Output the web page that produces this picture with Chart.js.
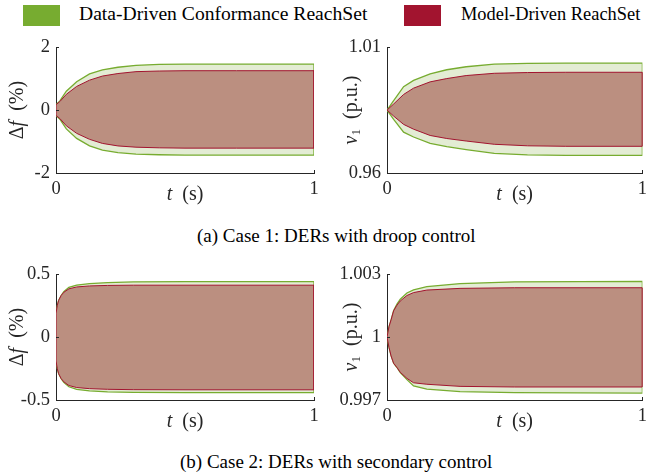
<!DOCTYPE html>
<html>
<head>
<meta charset="utf-8">
<script src="https://cdn.jsdelivr.net/npm/chart.js@4.4.0/dist/chart.umd.min.js"></script>
<style>
  body { margin: 0; width: 652px; height: 476px; position: relative; overflow: hidden; background: #fff; font-family: "Liberation Serif", serif; color: #000; }
  .abs { position: absolute; white-space: nowrap; }
  .patch { position: absolute; top: 5px; width: 37px; height: 21px; }
  .legtext { top: 4px; line-height: 20px; }
  .caption { font-size: 19px; line-height: 19px; }
  canvas { position: absolute; }
</style>
</head>
<body>

<div class="patch" style="left:23px;background:#77ac30"></div>
<div class="abs legtext" style="left:79px;font-size:19.6px">Data-Driven Conformance ReachSet</div>
<div class="patch" style="left:404px;background:#a2142f"></div>
<div class="abs legtext" style="left:461px;font-size:18.4px">Model-Driven ReachSet</div>

<canvas id="c1" width="326" height="180" style="left:0;top:30px"></canvas>
<canvas id="c2" width="326" height="180" style="left:326px;top:30px"></canvas>
<canvas id="c3" width="326" height="180" style="left:0;top:257px"></canvas>
<canvas id="c4" width="326" height="180" style="left:326px;top:257px"></canvas>

<div class="abs caption" style="left:197px;top:226px">(a) Case 1: DERs with droop control</div>
<div class="abs caption" style="left:180px;top:452px">(b) Case 2: DERs with secondary control</div>

<script>
// ---- Case 1 (droop control): frequency deviation, %
const t1 = [0, 0.015, 0.04, 0.08, 0.13, 0.18, 0.24, 0.31, 0.4, 0.5, 0.7, 1];
const df1ConfUp  = [0.17, 0.29, 0.6, 0.9, 1.15, 1.28, 1.36, 1.42, 1.45, 1.46, 1.46, 1.46];
const df1ConfLo  = [-0.17, -0.29, -0.6, -0.9, -1.14, -1.27, -1.35, -1.40, -1.42, -1.43, -1.43, -1.43];
const df1ModelUp = [0.17, 0.27, 0.5, 0.75, 0.95, 1.08, 1.16, 1.22, 1.24, 1.25, 1.25, 1.25];
const df1ModelLo = [-0.17, -0.27, -0.5, -0.74, -0.93, -1.06, -1.14, -1.18, -1.2, -1.21, -1.21, -1.21];

// ---- Case 1: bus 1 voltage, p.u.
const t2 = [0, 0.026, 0.065, 0.104, 0.169, 0.234, 0.31, 0.42, 0.55, 0.7, 1];
const v1ConfUp  = [0.985, 0.9887, 0.9943, 0.9968, 0.9994, 1.001, 1.0022, 1.0032, 1.0035, 1.0036, 1.0036];
const v1ConfLo  = [0.985, 0.9813, 0.9762, 0.9743, 0.9718, 0.9705, 0.9693, 0.9678, 0.9672, 0.967, 0.967];
const v1ModelUp = [0.985, 0.9874, 0.9912, 0.9937, 0.9962, 0.9975, 0.9987, 0.9996, 0.9999, 1.0, 1.0];
const v1ModelLo = [0.985, 0.9826, 0.9793, 0.9774, 0.9749, 0.9737, 0.9727, 0.9714, 0.9708, 0.9706, 0.9706];

// ---- Case 2 (secondary control): frequency deviation, %
const t3 = [0, 0.005, 0.01, 0.02, 0.03, 0.05, 0.08, 0.13, 0.2, 0.3, 0.5, 1];
const df2ConfUp  = [0.19, 0.25, 0.29, 0.33, 0.36, 0.395, 0.413, 0.425, 0.433, 0.438, 0.44, 0.44];
const df2ConfLo  = [-0.19, -0.25, -0.29, -0.33, -0.36, -0.395, -0.415, -0.427, -0.435, -0.44, -0.442, -0.442];
const df2ModelUp = [0.19, 0.25, 0.29, 0.33, 0.355, 0.383, 0.398, 0.406, 0.41, 0.412, 0.412, 0.412];
const df2ModelLo = [-0.19, -0.25, -0.29, -0.33, -0.355, -0.385, -0.401, -0.41, -0.415, -0.418, -0.419, -0.419];

// ---- Case 2: bus 1 voltage, p.u.
const t4 = [0, 0.008, 0.016, 0.026, 0.039, 0.052, 0.078, 0.104, 0.156, 0.286, 0.5, 1];
const v2ConfUp  = [1.0, 1.0005, 1.00082, 1.00127, 1.00157, 1.0018, 1.0021, 1.00225, 1.0024, 1.00255, 1.00263, 1.00265];
const v2ConfLo  = [1.0, 0.9995, 0.9991, 0.99875, 0.99855, 0.9983, 0.99797, 0.99767, 0.99752, 0.9974, 0.99735, 0.99733];
const v2ModelUp = [1.0, 1.0005, 1.00082, 1.00125, 1.00152, 1.00172, 1.00198, 1.00212, 1.00224, 1.00232, 1.00235, 1.00235];
const v2ModelLo = [1.0, 0.9995, 0.9991, 0.99875, 0.99855, 0.99832, 0.99803, 0.99782, 0.99775, 0.99765, 0.99762, 0.99762];

// tick labels
const xTicks = [0, 1];
const yTicks1 = [-2, 0, 2];
const yTicks2 = [0.96, 1.01];
const yTicks3 = [-0.5, 0, 0.5];
const yTicks4 = [0.997, 1, 1.003];

const GREEN = '#77ac30', GREEN_FILL = '#e3ecd4';
const RED = '#a2142f', RED_FILL = '#bb8f80';
const AXIS = '#262626';
const SERIF = '"Liberation Serif", serif';

// closed polygon: upper edge forward, lower edge back
function band(t, up, lo) {
  const pts = t.map((x, i) => ({ x: x, y: up[i] }));
  for (let i = t.length - 1; i >= 0; i--) pts.push({ x: t[i], y: lo[i] });
  pts.push({ x: t[0], y: up[0] });
  return pts;
}

// draws a label made of upright / italic / subscript pieces
function drawParts(ctx, parts, cx, cy, rot) {
  const fontOf = p => (p.i ? 'italic ' : '') + (p.sub ? '13px ' : '20px ') + SERIF;
  let total = 0;
  parts.forEach(p => { ctx.font = fontOf(p); total += ctx.measureText(p.t).width; });
  ctx.save();
  ctx.translate(cx, cy);
  ctx.rotate(rot);
  ctx.fillStyle = AXIS;
  ctx.textBaseline = 'middle';
  ctx.textAlign = 'left';
  let x = -total / 2;
  parts.forEach(p => {
    ctx.font = fontOf(p);
    ctx.fillText(p.t, x, p.sub ? 5 : 0);
    x += ctx.measureText(p.t).width;
  });
  ctx.restore();
}

const axisDecor = {
  id: 'axisDecor',
  afterDraw(chart, args, opts) {
    const { ctx, chartArea: a, scales } = chart;
    ctx.save();
    ctx.strokeStyle = AXIS;
    ctx.lineWidth = 1;
    // small inward tick marks
    scales.x.ticks.forEach(tk => {
      const px = Math.round(scales.x.getPixelForValue(tk.value)) + 0.5;
      ctx.beginPath(); ctx.moveTo(px, a.bottom); ctx.lineTo(px, a.bottom - 3); ctx.stroke();
    });
    scales.y.ticks.forEach(tk => {
      const py = Math.round(scales.y.getPixelForValue(tk.value)) + 0.5;
      ctx.beginPath(); ctx.moveTo(a.left, py); ctx.lineTo(a.left + 3, py); ctx.stroke();
    });
    ctx.restore();
    drawParts(ctx, [{ t: 't', i: true }, { t: '\u2002(s)' }], (a.left + a.right) / 2, a.bottom + 22, 0);
    drawParts(ctx, opts.yTitle, a.left - opts.yOffset, (a.top + a.bottom) / 2, -Math.PI / 2);
  }
};

function makeChart(id, t, confUp, confLo, modelUp, modelLo, yTicks, yWidth, padRight, yTitle, yOffset) {
  return new Chart(document.getElementById(id), {
    type: 'line',
    data: {
      datasets: [
        {
          data: band(t, modelUp, modelLo),
          borderColor: RED, backgroundColor: RED_FILL, borderWidth: 1,
          fill: 'shape', pointRadius: 0, tension: 0
        },
        {
          data: band(t, confUp, confLo),
          borderColor: GREEN, backgroundColor: GREEN_FILL, borderWidth: 1.3,
          fill: 'shape', pointRadius: 0, tension: 0
        }
      ]
    },
    options: {
      responsive: false,
      animation: false,
      layout: { padding: { left: 0, right: padRight, top: 10, bottom: 0 } },
      scales: {
        x: {
          type: 'linear', min: 0, max: 1,
          afterBuildTicks: s => { s.ticks = xTicks.map(v => ({ value: v })); },
          afterFit: s => { s.height = 37; },
          grid: { display: false, drawTicks: false },
          border: { display: true, color: AXIS, width: 1 },
          ticks: { color: AXIS, padding: 5, maxRotation: 0, font: { family: SERIF, size: 18.5 }, callback: v => String(v) }
        },
        y: {
          min: yTicks[0], max: yTicks[yTicks.length - 1],
          afterBuildTicks: s => { s.ticks = yTicks.map(v => ({ value: v })); },
          afterFit: s => { s.width = yWidth; },
          grid: { display: false, drawTicks: false },
          border: { display: true, color: AXIS, width: 1 },
          ticks: { color: AXIS, padding: 6, font: { family: SERIF, size: 18.5 }, callback: v => String(v) }
        }
      },
      plugins: {
        legend: { display: false },
        tooltip: { enabled: false },
        axisDecor: { yTitle: yTitle, yOffset: yOffset }
      }
    },
    plugins: [axisDecor]
  });
}

const dfTitle = [{ t: 'Δ' }, { t: 'f', i: true }, { t: '\u2002(%)' }];
const vTitle = [{ t: 'v', i: true }, { t: '1', sub: true }, { t: '\u2002(p.u.)' }];

makeChart('c1', t1, df1ConfUp, df1ConfLo, df1ModelUp, df1ModelLo, yTicks1, 56, 12, dfTitle, 38);
makeChart('c2', t2, v1ConfUp, v1ConfLo, v1ModelUp, v1ModelLo, yTicks2, 61, 9, vTitle, 35);
makeChart('c3', t3, df2ConfUp, df2ConfLo, df2ModelUp, df2ModelLo, yTicks3, 56, 12, dfTitle, 38);
makeChart('c4', t4, v2ConfUp, v2ConfLo, v2ModelUp, v2ModelLo, yTicks4, 61, 9, vTitle, 35);
</script>
</body>
</html>
